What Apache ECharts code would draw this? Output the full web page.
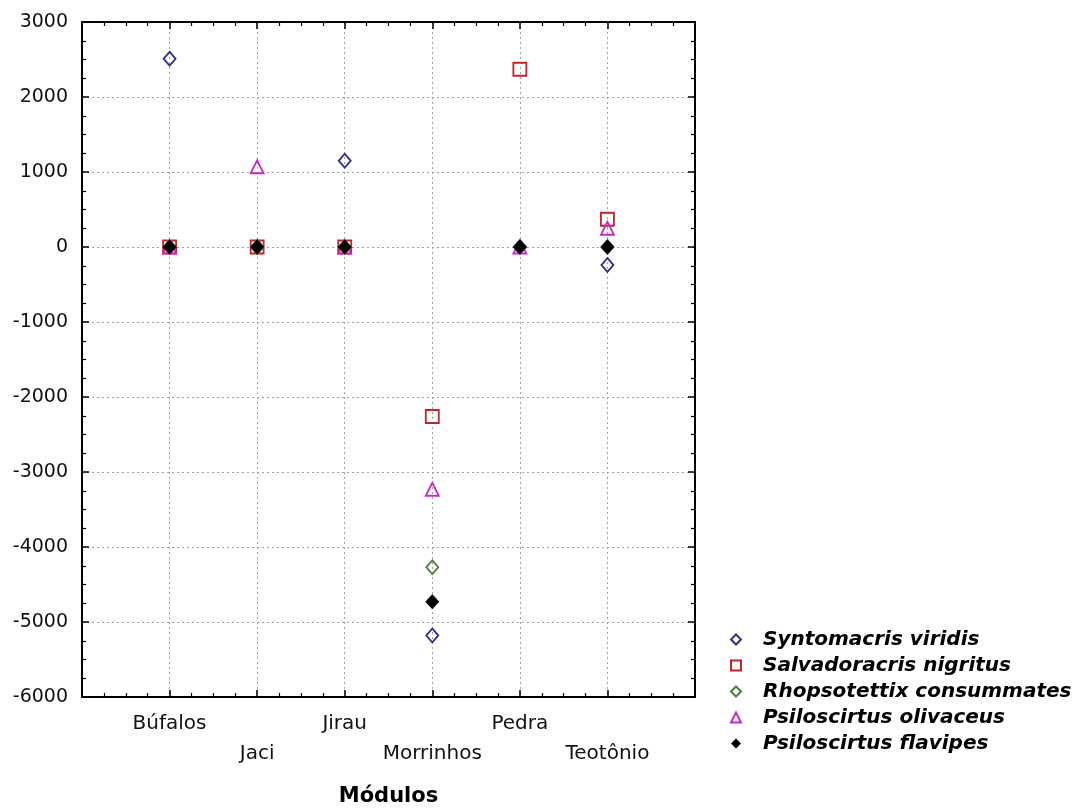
<!DOCTYPE html>
<html>
<head>
<meta charset="utf-8">
<title>Módulos</title>
<script src="https://cdn.jsdelivr.net/npm/echarts@6/dist/echarts.min.js"></script>
<style>
  html, body { margin: 0; padding: 0; background: #ffffff; }
  #chart { width: 1089px; height: 808px; }
</style>
</head>
<body>
<div id="chart"></div>
<script>
// Modules along the x axis (positions 1..6)
const modules = ['Búfalos', 'Jaci', 'Jirau', 'Morrinhos', 'Pedra', 'Teotônio'];

// Scores per module for each species
const syntomacrisViridis      = [2510, 0, 1150, -5180, 0, -240];
const salvadoracrisNigritus   = [0, 0, 0, -2260, 2370, 370];
const rhopsotettixConsummates = [0, 0, 0, -4270, 0, 0];
const psiloscirtusOlivaceus   = [0, 1070, 0, -3230, 0, 250];
const psiloscirtusFlavipes    = [0, 0, 0, -4730, 0, 0];

// Y axis ticks
const yTicks = [-6000, -5000, -4000, -3000, -2000, -1000, 0, 1000, 2000, 3000];

const AXIS_FONT = 'DejaVu Sans, Liberation Sans, Arial, sans-serif';

function points(values) {
  return values.map((v, i) => [i + 1, v]);
}

const speciesList = [
  { name: 'Syntomacris viridis', values: syntomacrisViridis, symbol: 'diamond', size: [12, 14], color: '#2e2e8f', filled: false },
  { name: 'Salvadoracris nigritus', values: salvadoracrisNigritus, symbol: 'rect', size: [13, 13], color: '#c4222c', filled: false },
  { name: 'Rhopsotettix consummates', values: rhopsotettixConsummates, symbol: 'diamond', size: [12, 14], color: '#4f7f3d', filled: false },
  { name: 'Psiloscirtus olivaceus', values: psiloscirtusOlivaceus, symbol: 'triangle', size: [13, 13], color: '#c42ac4', filled: false },
  { name: 'Psiloscirtus flavipes', values: psiloscirtusFlavipes, symbol: 'diamond', size: [14, 15], color: '#000000', filled: true }
];

const series = speciesList.map(s => ({
  name: s.name,
  type: 'scatter',
  xAxisIndex: 0,
  yAxisIndex: 0,
  symbol: s.symbol,
  symbolSize: s.size,
  data: points(s.values),
  itemStyle: {
    color: s.filled ? s.color : 'rgba(255,255,255,0)',
    borderColor: s.color,
    borderWidth: s.filled ? 0 : 1.8,
    opacity: 1
  },
  emphasis: { disabled: true }
}));

const yMin = yTicks[0];
const yMax = yTicks[yTicks.length - 1];
const yStep = yTicks[1] - yTicks[0];

const tickStyle = { show: true, inside: true, length: 7, lineStyle: { color: '#000', width: 1.5 } };
const minorTickStyle = { show: true, splitNumber: 4, length: 4, lineStyle: { color: '#000', width: 1.2 } };
const frameLine = { show: true, onZero: false, lineStyle: { color: '#000', width: 2 } };
const gridDots = { show: true, lineStyle: { color: '#a0a0a0', type: [2, 3], width: 1 } };

const option = {
  backgroundColor: '#ffffff',
  animation: false,
  grid: { left: 82, right: 394, top: 22, bottom: 111, containLabel: false, outerBoundsMode: 'none' },
  xAxis: [
    {
      type: 'value',
      min: 0,
      max: modules.length + 1,
      interval: 1,
      position: 'bottom',
      axisLine: frameLine,
      axisTick: tickStyle,
      minorTick: minorTickStyle,
      splitLine: gridDots,
      axisLabel: {
        show: true,
        margin: 12,
        fontFamily: AXIS_FONT,
        fontSize: 20,
        color: '#111',
        lineHeight: 30,
        verticalAlign: 'top',
        formatter: function (v) {
          const i = Math.round(v) - 1;
          if (i < 0 || i >= modules.length) return '';
          return i % 2 === 1 ? '\n' + modules[i] : modules[i];
        }
      },
      name: 'Módulos',
      nameLocation: 'middle',
      nameGap: 89,
      nameTextStyle: { fontFamily: AXIS_FONT, fontWeight: 'bold', fontSize: 21, color: '#000' }
    },
    {
      type: 'value',
      min: 0,
      max: modules.length + 1,
      interval: 1,
      position: 'top',
      axisLine: frameLine,
      axisTick: tickStyle,
      minorTick: minorTickStyle,
      splitLine: { show: false },
      axisLabel: { show: false }
    }
  ],
  yAxis: [
    {
      type: 'value',
      min: yMin,
      max: yMax,
      interval: yStep,
      position: 'left',
      axisLine: frameLine,
      axisTick: tickStyle,
      minorTick: minorTickStyle,
      splitLine: gridDots,
      axisLabel: {
        margin: 14,
        fontFamily: AXIS_FONT,
        fontSize: 19,
        color: '#111',
        padding: [4, 0, 0, 0],
        formatter: function (v) { return String(v); }
      }
    },
    {
      type: 'value',
      min: yMin,
      max: yMax,
      interval: yStep,
      position: 'right',
      axisLine: frameLine,
      axisTick: tickStyle,
      minorTick: minorTickStyle,
      splitLine: { show: false },
      axisLabel: { show: false }
    }
  ],
  legend: {
    orient: 'vertical',
    left: 725,
    top: 624,
    itemWidth: 10,
    itemHeight: 10,
    itemGap: 5,
    selectedMode: false,
    data: speciesList.map(s => ({ name: s.name })),
    textStyle: {
      fontFamily: AXIS_FONT,
      fontStyle: 'italic',
      fontWeight: 'bold',
      fontSize: 20,
      lineHeight: 21,
      color: '#000',
      padding: [0, 0, 0, 17]
    }
  },
  series: series
};

const chart = echarts.init(document.getElementById('chart'), null, { renderer: 'canvas' });
chart.setOption(option);
</script>
</body>
</html>
